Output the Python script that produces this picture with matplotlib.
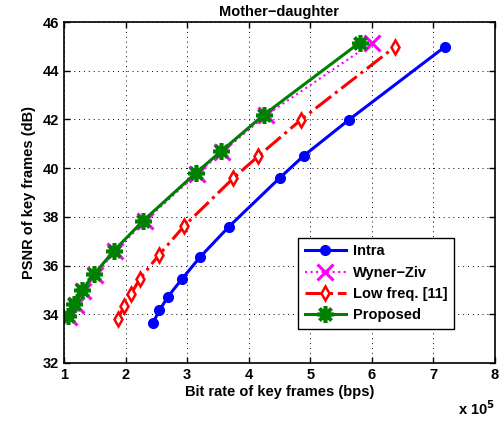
import numpy as np
import matplotlib
matplotlib.use("Agg")
import matplotlib.pyplot as plt

plt.rcParams['font.family'] = ['Liberation Sans', 'DejaVu Sans']
plt.rcParams['font.weight'] = 'bold'

# Data (bit rate in units of 1e5 bps, PSNR in dB)
intra_x = [2.44, 2.55, 2.69, 2.91, 3.21, 3.68, 4.50, 4.89, 5.63, 7.18]
intra_y = [33.63, 34.16, 34.73, 35.43, 36.35, 37.60, 39.59, 40.50, 41.99, 44.97]

low_x = [1.87, 1.98, 2.09, 2.23, 2.54, 2.95, 3.75, 4.15, 4.85, 6.37]
low_y = [33.81, 34.33, 34.83, 35.45, 36.43, 37.62, 39.59, 40.48, 41.99, 44.97]

prop_x = [1.06, 1.17, 1.29, 1.49, 1.81, 2.29, 3.14, 3.55, 4.25, 5.80]
prop_y = [33.93, 34.43, 34.99, 35.65, 36.61, 37.85, 39.80, 40.69, 42.20, 45.15]

wz_x = [1.08, 1.19, 1.31, 1.51, 1.83, 2.31, 3.16, 3.57, 4.28, 6.01]
wz_y = [33.90, 34.40, 34.96, 35.62, 36.58, 37.82, 39.77, 40.66, 42.17, 45.15]

xticks = [1, 2, 3, 4, 5, 6, 7, 8]
yticks = [32, 34, 36, 38, 40, 42, 44, 46]

fig = plt.figure(figsize=(5.04, 4.21), dpi=100)
ax = fig.add_axes([64/504, 1-363/421, (495-64)/504, (363-22)/421])

ax.plot(intra_x, intra_y, color='#0000ff', lw=2.2, marker='o', ms=7, label='Intra')
ax.plot(wz_x, wz_y, color='#ff00ff', lw=1.5, ls=':', marker='x', ms=11, mew=2.2, label='Wyner\u2212Ziv')
ax.plot(low_x, low_y, color='#ff0000', lw=2.2, ls='-.', marker='d', ms=7.5, mfc='white', mew=1.8, label='Low freq. [11]')
ax.plot(prop_x, prop_y, color='#008000', lw=2.2, marker=(8, 2, 0), ms=12, mew=2.6, label='Proposed')

ax.set_xlim(1, 8)
ax.set_ylim(32, 46)
ax.set_xticks(xticks)
ax.set_yticks(yticks)
ax.tick_params(direction='in', top=True, right=True, labelsize=10.5, length=4, width=1)
for lbl in ax.get_xticklabels() + ax.get_yticklabels():
    lbl.set_fontweight('bold')
ax.grid(True, color='black', ls=(0, (1, 4)), lw=0.7)
for s in ax.spines.values():
    s.set_linewidth(1.2)

ax.set_title('Mother\u2212daughter', fontsize=10.5, fontweight='bold', pad=4)
ax.set_xlabel('Bit rate of key frames (bps)', fontsize=10.5, fontweight='bold', labelpad=2)
ax.set_ylabel('PSNR of key frames (dB)', fontsize=10.5, fontweight='bold', labelpad=5)
ax.text(1.0, -0.105, 'x 10$^5$', transform=ax.transAxes, ha='right', va='top',
        fontsize=10.5, fontweight='bold')

leg = ax.legend(loc='lower right', bbox_to_anchor=(0.905, 0.1), borderaxespad=0,
                fancybox=False, edgecolor='black', framealpha=1, fontsize=10.5,
                handlelength=2.8, labelspacing=0.5, borderpad=0.45, handletextpad=0.5)
leg.get_frame().set_linewidth(1.0)
for t in leg.get_texts():
    t.set_fontweight('bold')

fig.savefig('out.png', dpi=100)
